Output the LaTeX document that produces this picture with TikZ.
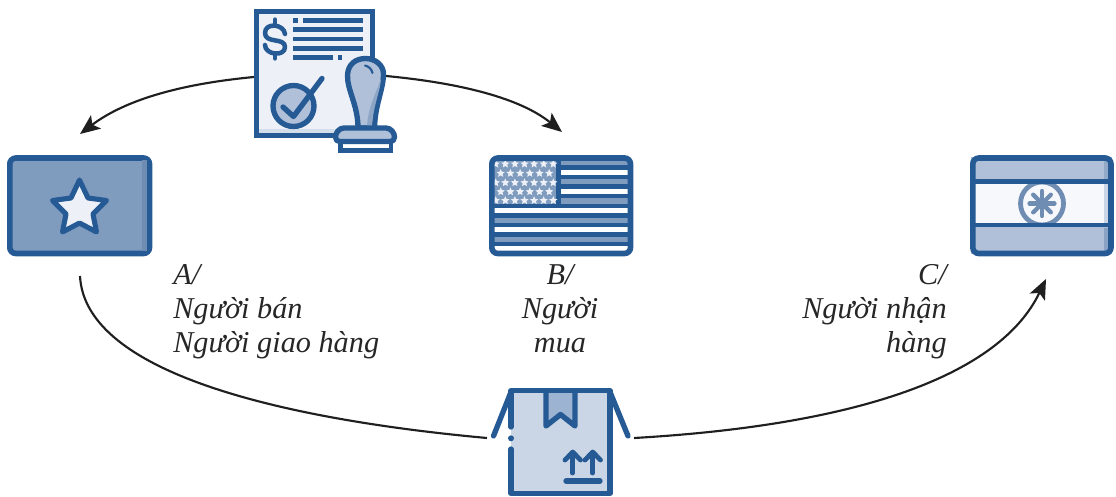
\documentclass[tikz,border=0pt]{standalone}
\usepackage{fontspec}
\setmainfont{Liberation Serif}
\usetikzlibrary{arrows.meta,shapes.geometric}
\definecolor{navy}{HTML}{265A94}
\definecolor{midblue}{HTML}{7F9BBE}
\definecolor{midedge}{HTML}{6F8DB3}
\definecolor{lightblue}{HTML}{AFC0D8}
\definecolor{lightedge}{HTML}{8AA3C5}
\definecolor{paleblue}{HTML}{EDF1F7}
\definecolor{boxblue}{HTML}{CAD6E5}
\definecolor{flapblue}{HTML}{9DB3D2}
\definecolor{whiteblue}{HTML}{F6F8FC}
\tikzset{
  icon/.style={draw=none,fill=none,inner sep=0pt,outer sep=0pt},
  iconline/.style={draw=navy,line width=4pt,line join=round,line cap=round},
  flagframe/.style={draw=navy,line width=4.2pt,rounded corners=4.5pt},
  bar/.style={fill=navy},
  link/.style={draw=black!88,line width=1.6pt},
  linka/.style={link,-{Stealth[length=15pt,width=12.5pt,inset=3.4pt]}},
  caption/.style={font=\itshape\fontsize{22.7pt}{25.6pt}\selectfont,inner sep=0pt,text=black!85},
}
\begin{document}
\begin{tikzpicture}[x=0.75pt,y=-0.75pt]
\useasboundingbox (0,0) rectangle (1116,496);
% anchors
\node[icon,minimum width=91pt,minimum height=95pt] (doc) at (314.5,73.5) {};
\node[icon,minimum width=30pt,minimum height=70pt] (stamp) at (371,76) {};
\node[icon,minimum width=107pt,minimum height=73pt] (flagA) at (79.5,205.5) {};
\node[icon,minimum width=107pt,minimum height=73pt] (flagB) at (561,205.5) {};
\node[icon,minimum width=107pt,minimum height=73pt] (flagC) at (1042,205.5) {};
\node[icon,minimum width=104pt,minimum height=82pt] (box) at (561,441) {};
\coordinate (ta) at (80,134);
\coordinate (tb) at (562,132);
\coordinate (sa) at (80,276);
\coordinate (tc) at (1046,279);
\coordinate (bl) at (487,438);
\coordinate (br) at (634,438);
\coordinate (dl) at (254,77);
\coordinate (dr) at (386,76);
% connectors
\draw[linka] (dl) .. controls (180,84) and (125,100) .. (ta);
\draw[linka] (dr) .. controls (460,83) and (520,98) .. (tb);
\draw[link] (sa) .. controls (85,375) and (290,420) .. (bl);
\draw[linka] (br) .. controls (860,425) and (1000,375) .. (tc);
% document
\fill[paleblue] (254,10) rectangle (375,137);
\fill[boxblue!70!paleblue] (256,129) rectangle (373,135);
\draw[navy,line width=3.6pt] (256.4,11.4) rectangle (372.6,135.6);
% dollar
\draw[navy,line width=3.4pt,line cap=round,line join=round] (285,34) .. controls (284,24) and (265,22) .. (265,33) .. controls (265,44) and (285,37) .. (285,47) .. controls (285,57) and (265,55) .. (265,45);
\draw[navy,line width=3.2pt,line cap=round] (275,19.5) -- (275,24);
\draw[navy,line width=3.2pt,line cap=round] (275,54) -- (275,58.5);
% text bars
\fill[bar] (293,18) rectangle (298,22.7);
\fill[bar] (303,18) rectangle (363,22.7);
\fill[bar] (293,27.3) rectangle (363,32);
\fill[bar] (293,36.7) rectangle (363,41.3);
\fill[bar] (293,46) rectangle (363,50.7);
\fill[bar] (293,55.3) rectangle (333,60);
\fill[bar] (337.5,55.3) rectangle (342,60);
% check seal
\draw[iconline,fill=lightblue] (293.5,106) circle (20.5);
\draw[iconline] (283,107) -- (293.5,116.5) -- (322,78.5);
% stamp
\draw[iconline,fill=lightblue] (358,128) .. controls (358,105) and (347,90) .. (347.5,75) .. controls (348,64) and (356,58.5) .. (365.5,58.5) .. controls (375,58.5) and (384,65) .. (383.5,75) .. controls (383,90) and (375,105) .. (374.5,128) -- cycle;
\fill[midblue!70!lightblue] (372,127) -- (367,127) .. controls (368,105) and (378,90) .. (381,78) .. controls (381,90) and (373,105) .. (372,127) -- cycle;
\draw[navy,line width=1.6pt,line cap=round] (365,65.5) .. controls (369,66.5) and (371.5,69) .. (372.5,73);
\fill[white] (340,143) rectangle (391,149);
\draw[navy,line width=3.4pt] (340.5,141) -- (340.5,150.5) -- (391,150.5) -- (391,141);
\draw[iconline,fill=lightblue] (344,128) -- (386,128) .. controls (391,128) and (394.5,133) .. (394.5,137) .. controls (394.5,140) and (393,141.5) .. (390,141.5) -- (340,141.5) .. controls (337,141.5) and (335.5,140) .. (335.5,137) .. controls (335.5,133) and (339,128) .. (344,128) -- cycle;
% Flag A
\draw[flagframe,fill=midblue] (9.8,158) rectangle (149.5,253.5);
\fill[midedge] (142,160) rectangle (147,251);
\draw[iconline,fill=paleblue,line width=3.8pt,miter limit=2] (79.5,180)
  -- (88,198) -- (106.5,200.5) -- (93,214) -- (96.5,232) -- (79.5,223)
  -- (62.5,232) -- (66,214) -- (52.5,200.5) -- (71,198) -- cycle;
% Flag B
\fill[white] (490,157) rectangle (631,254);
\foreach \y/\c in {162.7/midblue,172.1/white,181.7/midblue,191.3/white,200.9/midblue,210.5/white,220.1/midblue,229.7/white,239.3/midblue,248.9/white}{
  \fill[\c] (492,\y-2.7) rectangle (630,\y+2.7);
}
\foreach \y in {167.4,176.9,186.5,196.1,205.7,215.3,224.9,234.5,244.1}{
  \fill[navy] (492,\y-2.2) rectangle (630,\y+2.2);
}
\fill[midblue] (493,159) rectangle (556,204);
\fill[navy] (556,158) rectangle (561,206);
\fill[navy] (492,203.8) rectangle (556,206);
\foreach \yy in {164,182.7,200.5}{
  \foreach \k in {0,...,6}{
    \node[star,star points=5,star point ratio=2.2,fill=paleblue,inner sep=0pt,minimum size=6.5pt] (s\yy\k) at (495.7+\k*9.6,\yy) {};
  }
}
\foreach \yy in {173.3,191.7}{
  \foreach \k in {0,...,5}{
    \node[star,star points=5,star point ratio=2.2,fill=paleblue,inner sep=0pt,minimum size=6.5pt] (r\yy\k) at (500.7+\k*9.7,\yy) {};
  }
}
\draw[flagframe] (491.8,158) rectangle (630.5,253.5);
% Flag C
\fill[lightblue] (971,157) rectangle (1112,254);
\fill[lightedge] (1104,228) rectangle (1110,252);
\fill[midblue!60!lightblue] (1104,159) rectangle (1110,180);
\fill[whiteblue] (973,183) rectangle (1110,225);
\fill[boxblue] (1104,183) rectangle (1110,225);
\begin{scope}
  \clip (973,183) rectangle (1110,225);
  \draw[draw=midedge,line width=3.6pt] (1042,203.5) circle (21.5);
\end{scope}
\foreach \a in {0,45,90,135}{
  \draw[midedge,line width=3.2pt,line cap=round] (1042,203.5) ++(\a:12.5) -- ++(\a+180:25);
}
\fill[navy] (971,179) rectangle (1112,184);
\fill[navy] (971,222.5) rectangle (1112,227);
\draw[flagframe] (972.8,158) rectangle (1111,253.5);
% Box
\fill[boxblue] (511,390) rectangle (610,494);
\fill[flapblue] (546,391) rectangle (575,420);
\fill[boxblue] (546,428) -- (560.5,416) -- (575,428) -- (575,433) -- (546,433) -- cycle;
\draw[iconline] (546,392) -- (546,426) -- (560.5,414.5) -- (575,426) -- (575,392);
\draw[iconline] (511,427) -- (511,390.5) -- (610,390.5) -- (610,493.5) -- (511,493.5) -- (511,449);
\fill[navy] (511,438.3) circle (3);
\draw[iconline] (511,392) -- (493.5,436);
\draw[iconline] (610,392) -- (628,436);
% box arrows
\draw[iconline,line width=3.6pt] (572.7,473) -- (572.7,453);
\draw[iconline,line width=3.6pt] (565,460) -- (572.7,452) -- (580.5,460);
\draw[iconline,line width=3.6pt] (592.7,473) -- (592.7,453);
\draw[iconline,line width=3.6pt] (585,460) -- (592.7,452) -- (600.5,460);
\draw[iconline,line width=4pt] (566,481) -- (600,481);
% captions
\node[caption,align=left,anchor=north west] (capA) at (173,264) {A/\\Người bán\\Người giao hàng};
\node[caption,align=center,anchor=north] (capB) at (560,264) {B/\\Người\\mua};
\node[caption,align=right,anchor=north east] (capC) at (947,264) {C/\\Người nhận\\hàng};
\end{tikzpicture}
\end{document}
